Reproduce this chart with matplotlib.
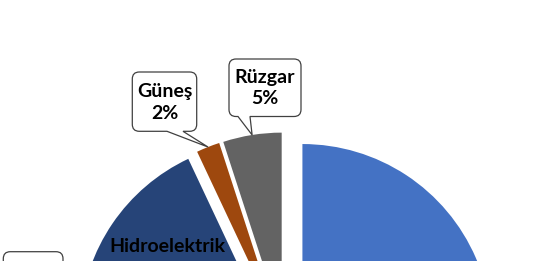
import numpy as np
import matplotlib.pyplot as plt
from matplotlib.path import Path
from matplotlib.patches import PathPatch, FancyBboxPatch

# elektrik üretimi kaynak payları (%), saat yönünde, tepe noktasından başlayarak
sources = ['Doğalgaz', 'İthal Kömür', 'Linyit', 'Taş Kömürü', 'Fuel Oil',
           'Jeotermal', 'Hidroelektrik', 'Güneş', 'Rüzgar']
shares = [37, 17, 15, 2, 1, 4, 17, 2, 5]
colors = ['#4472C4', '#ED7D31', '#A5A5A5', '#FFC000', '#5B9BD5',
          '#70AD47', '#264478', '#9E480E', '#636363']

plt.rcParams['font.family'] = ['Lato', 'DejaVu Sans']

W, H = 533, 261
fig = plt.figure(figsize=(W / 100, H / 100), dpi=100)
ax = fig.add_axes([0, 0, 1, 1])

R = 189
gap = 19.3
wedges, _ = ax.pie(shares, colors=colors, startangle=90, counterclock=False,
                   radius=R, center=(284.7, -79.7), explode=[gap] * len(shares),
                   wedgeprops=dict(linewidth=0), frame=True)
ax.set_xlim(0, W)
ax.set_ylim(0, H)
ax.set_aspect('equal')
ax.axis('off')


def tip_of(w):
    # mid point of the wedge's outer arc
    t = np.deg2rad((w.theta1 + w.theta2) / 2)
    return (w.center[0] + w.r * np.cos(t), w.center[1] + w.r * np.sin(t))


def callout(x0, x1, y0, y1, tip, b0, b1, r=7):
    M, L, C, Z = Path.MOVETO, Path.LINETO, Path.CURVE3, Path.CLOSEPOLY
    verts = [(x0 + r, y0), (b0, y0), tip, (b1, y0), (x1 - r, y0),
             (x1, y0), (x1, y0 + r), (x1, y1 - r), (x1, y1), (x1 - r, y1),
             (x0 + r, y1), (x0, y1), (x0, y1 - r), (x0, y0 + r), (x0, y0),
             (x0 + r, y0), (0, 0)]
    codes = [M, L, L, L, L, C, C, L, C, C, L, C, C, L, C, C, Z]
    ax.add_patch(PathPatch(Path(verts, codes), facecolor='white',
                           edgecolor='#404040', lw=0.9, zorder=5))


idx = {s: i for i, s in enumerate(sources)}
lbl = dict(ha='center', va='center', fontsize=14, fontweight='bold',
           linespacing=1.3, color='black', zorder=6)

# Güneş
w = wedges[idx['Güneş']]
callout(132.3, 196.7, 129.7, 189, tip_of(w), 167, 183)
ax.text(164.5, 158.5, 'Güneş\n%d%%' % shares[idx['Güneş']], **lbl)

# Rüzgar
w = wedges[idx['Rüzgar']]
callout(229, 301, 144.5, 202, tip_of(w), 238, 250)
ax.text(265, 173, 'Rüzgar\n%d%%' % shares[idx['Rüzgar']], **lbl)

# sol alttaki kutu (metni görünmüyor)
ax.add_patch(FancyBboxPatch((3.3, -40), 59.7, 49.3,
                            boxstyle='round,pad=0,rounding_size=7',
                            facecolor='white', edgecolor='#404040', lw=0.9, zorder=5))

ax.text(167.7, 9.3, 'Hidroelektrik', ha='center', va='baseline',
        fontsize=14, fontweight='bold', color='black', zorder=6)

fig.savefig('out.png', dpi=100)
